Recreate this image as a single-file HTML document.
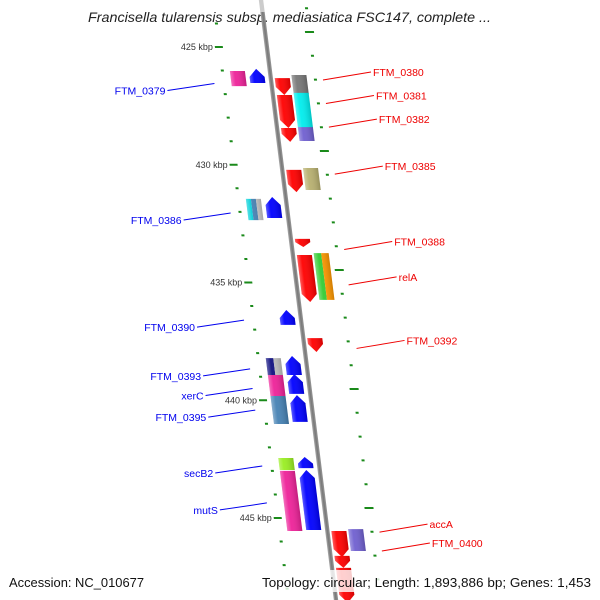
<!DOCTYPE html>
<html><head><meta charset="utf-8"><style>
html,body{margin:0;padding:0;background:#fff;}
svg{display:block;font-family:"Liberation Sans",sans-serif;}
</style></head><body>
<svg id="chart" width="600" height="600" viewBox="0 0 600 600" xmlns="http://www.w3.org/2000/svg">
<defs>
<linearGradient id="shade" x1="0" x2="1" y1="0" y2="0">
<stop offset="0" stop-color="#fff" stop-opacity="0.35"/>
<stop offset="0.3" stop-color="#fff" stop-opacity="0.05"/>
<stop offset="1" stop-color="#000" stop-opacity="0.18"/>
</linearGradient>
<linearGradient id="bb" x1="0" x2="1"><stop offset="0" stop-color="#aaa"/><stop offset="0.5" stop-color="#777"/><stop offset="1" stop-color="#999"/></linearGradient>
</defs>
<text x="88" y="22" font-size="14" font-style="italic" fill="#222" textLength="403" lengthAdjust="spacingAndGlyphs">Francisella tularensis subsp. mediasiatica FSC147, complete ...</text>
<g id="skew" transform="translate(261,0) skewX(7.125)"></g>
<g id="labels"></g>
<rect x="258" y="570" width="342" height="22" fill="#fff" fill-opacity="0.8"/>
<text x="9" y="587" font-size="13" fill="#111" textLength="135" lengthAdjust="spacingAndGlyphs">Accession: NC_010677</text>
<text x="262" y="587" font-size="13" fill="#111" textLength="329" lengthAdjust="spacingAndGlyphs">Topology: circular; Length: 1,893,886 bp; Genes: 1,453</text>
</svg>
<script>
const geneNames = ["FTM_0379a","FTM_0379","FTM_0380","FTM_0380b","FTM_0381","FTM_0381b","FTM_0382","FTM_0382b","FTM_0385","FTM_0385b","FTM_0386a","FTM_0386","FTM_0388","relA","relAb","FTM_0390","FTM_0392","FTM_0393a","FTM_0393","xerCa","xerC","FTM_0395a","FTM_0395","secB2a","secB2","mutSa","mutS","accA","accAb","FTM_0400","FTM_0401"];
const geneStart = [426.02,425.93,426.32,426.19,427.04,426.95,428.44,428.40,430.22,430.14,431.45,431.37,433.15,433.83,433.75,436.17,437.36,438.21,438.12,438.93,438.89,439.82,439.78,442.45,442.41,443.00,442.96,445.55,445.47,446.61,447.12];
const geneEnd   = [426.66,426.53,427.04,427.00,428.44,428.44,429.03,428.99,431.16,431.07,432.35,432.26,433.49,435.83,435.74,436.80,437.95,438.93,438.93,439.82,439.73,441.01,440.92,442.96,442.88,445.55,445.51,446.66,446.40,447.12,448.60];
const geneLane  = ["LO","LI","RI","RO","RI","RO","RI","RO","RI","RO","LO","LI","RI","RI","RO","LI","RI","LO","LI","LO","LI","LO","LI","LO","LI","LO","LI","RI","RO","RI","RI"];
const geneArrow = [0,1,-1,0,-1,0,-1,0,-1,0,0,1,-1,-1,0,1,-1,0,1,0,1,0,1,0,1,0,1,-1,0,-1,-1];
const geneColor = ["#ee2299","#0000ff","#ff0000","#777777","#ff0000","#00eeee","#ff0000","#7060d0","#ff0000","#b8b070","#00d0d8|#4682b4|#c8c8c8","#0000ff","#ff0000","#ff0000","#33cc33|#ff9900","#0000ff","#ff0000","#101080|#c0c0c0","#0000ff","#ee2299","#0000ff","#4682b4","#0000ff","#99ee22","#0000ff","#ee2299","#0000ff","#ff0000","#7060d0","#ff0000","#ff0000"];
const labelText = ["FTM_0379","FTM_0380","FTM_0381","FTM_0382","FTM_0385","FTM_0386","FTM_0388","relA","FTM_0390","FTM_0392","FTM_0393","xerC","FTM_0395","secB2","mutS","accA","FTM_0400"];
const labelKbp  = [426.55,426.4,427.4,428.4,430.4,432.05,433.6,435.1,436.6,437.8,438.67,439.5,440.42,442.79,444.36,445.6,446.4];
const labelSide = ["L","R","R","R","R","L","R","R","L","R","L","L","L","L","L","R","R"];
const majorTicks = [425,430,435,440,445];

const NS="http://www.w3.org/2000/svg";
const yOf = k => 47 + (k-425)*23.55;
const lineX = y => 261 + 0.125*y;
const lanes = {LO:[-40,-25],LI:[-21,-6],RI:[4,19],RO:[21,36]};
const sk = document.getElementById('skew');
const lb = document.getElementById('labels');
function mk(tag, attrs, parent){const e=document.createElementNS(NS,tag);for(const k in attrs)e.setAttribute(k,attrs[k]);parent.appendChild(e);return e;}

const bbTop = mk('rect',{x:-2.2,y:0,width:4.4,height:12,fill:'#ccc'},sk);


const bb = mk('rect',{x:-2.2,y:12,width:4.4,height:588,fill:'url(#bb)'},sk);



for(let k=424;k<=448;k++){
  const y=yOf(k); const major=majorTicks.includes(k);
  const t=mk('rect',{x:major?-52:-49,y:y-1,width:major?8:3,height:2,fill:'#1a8a1a'},sk);
  
  
  if(major){
    const tx=mk('text',{x:lineX(y)-54,y:y+3,'font-size':9,'text-anchor':'end',fill:'#333'},lb);
    tx.textContent=k+' kbp';
    
    
  }
}
for(let i=-1;i<25;i++){
  const y=32+i*23.8; if(y<0||y>600) continue; const major=(i%5===0);
  const t=mk('rect',{x:major?40:43,y:y-1,width:major?9:3,height:2,fill:'#1a8a1a'},sk);
  
  
}

for(let i=0;i<geneNames.length;i++){
  const y1=yOf(geneStart[i]), y2=yOf(geneEnd[i]);
  const [u0,u1]=lanes[geneLane[i]]; const um=(u0+u1)/2;
  const g=mk('g',{},sk);
  
  
  const cols=geneColor[i].split('|');
  const h=Math.min(8,(y2-y1)*0.6);
  if(geneArrow[i]===1){
    const p=`${u0},${y2} ${u0},${y1+h} ${um},${y1} ${u1},${y1+h} ${u1},${y2}`;
    mk('polygon',{points:p,fill:cols[0]},g);
    mk('polygon',{points:p,fill:'url(#shade)'},g);
  } else if(geneArrow[i]===-1){
    const p=`${u0},${y1} ${u1},${y1} ${u1},${y2-h} ${um},${y2} ${u0},${y2-h}`;
    mk('polygon',{points:p,fill:cols[0]},g);
    mk('polygon',{points:p,fill:'url(#shade)'},g);
  } else {
    const w=(u1-u0)/cols.length;
    cols.forEach((c,j)=>mk('rect',{x:u0+j*w,y:y1,width:w,height:y2-y1,fill:c},g));
    mk('rect',{x:u0,y:y1,width:u1-u0,height:y2-y1,fill:'url(#shade)'},g);
  }
}

for(let i=0;i<labelText.length;i++){
  const y=yOf(labelKbp[i]); const lx=lineX(y); const left=labelSide[i]==='L';
  const col=left?'#0000ee':'#ee0000';
  const xa=left?lx-57:lx+52, xb=left?lx-104:lx+100;
  const yb=left?y+7:y-8;
  const ln=mk('line',{x1:xa,y1:y,x2:xb,y2:yb,stroke:col,'stroke-width':1},lb);
  
  
  const t=mk('text',{x:left?xb-2:xb+2,y:yb+4,'font-size':10.5,fill:col,'text-anchor':left?'end':'start'},lb);
  t.textContent=labelText[i];
  
  
}
</script>
</body></html>
